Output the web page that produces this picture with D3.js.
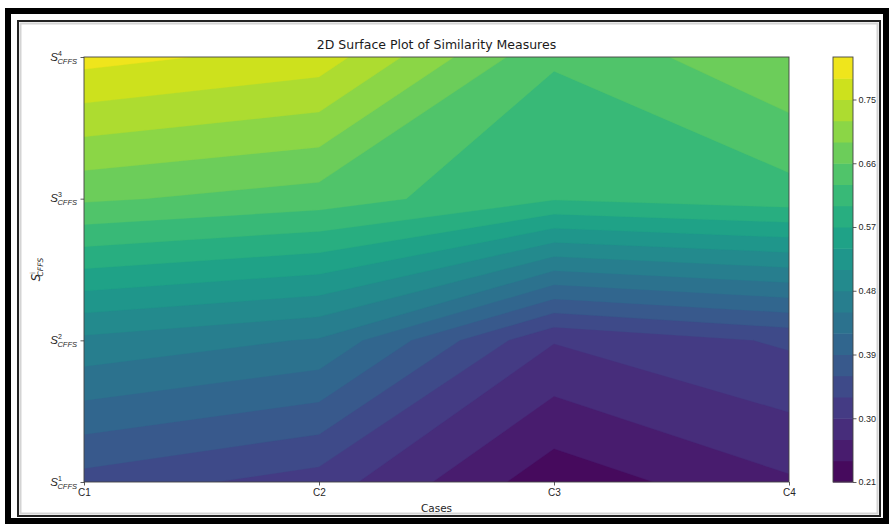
<!DOCTYPE html>
<html lang="en">
<head>
<meta charset="UTF-8">
<title>2D Surface Plot of Similarity Measures</title>
<style>
  body { margin: 0; padding: 0; background: #fff; }
  svg { display: block; font-family: "DejaVu Sans", sans-serif; }
  .tick text { font-size: 10px; fill: #262626; }
  .tick line { stroke: #333; stroke-width: 0.8px; }
  .domain { display: none; }
  .cbar .tick text { font-size: 9px; }
</style>
</head>
<body>
<svg id="chart" width="890" height="525"></svg>
<script src="https://d3js.org/d3.v7.min.js"></script>
<script>
// x categories and y rows (S^k_CFFS, bottom to top)
const cases = ["C1", "C2", "C3", "C4"];
const rowKeys = ["1", "2", "3", "4"];

// similarity values, one row per S level, one value per case
const rowS1 = [0.348, 0.316, 0.221, 0.266];
const rowS2 = [0.473, 0.447, 0.302, 0.335];
const rowS3 = [0.665, 0.646, 0.603, 0.617];
const rowS4 = [0.791, 0.767, 0.633, 0.688];

// contour levels and colorbar ticks
const levels = [0.21, 0.24, 0.27, 0.30, 0.33, 0.36, 0.39, 0.42, 0.45, 0.48, 0.51,
                0.54, 0.57, 0.60, 0.63, 0.66, 0.69, 0.72, 0.75, 0.78, 0.81];
const cbTicks = [0.21, 0.30, 0.39, 0.48, 0.57, 0.66, 0.75];

const svg = d3.select("#chart");

// plot area
const pLeft = 84, pRight = 789, pTop = 57, pBottom = 482;

// frame around the whole figure
svg.append("rect").attr("x", 8).attr("y", 11).attr("width", 878).attr("height", 510)
    .attr("fill", "none").attr("stroke", "#000").attr("stroke-width", 6);
svg.append("rect").attr("x", 18).attr("y", 21).attr("width", 862).attr("height", 495)
    .attr("fill", "none").attr("stroke", "#222").attr("stroke-width", 2);
svg.append("rect").attr("x", 20.5).attr("y", 23.5).attr("width", 857).attr("height", 490)
    .attr("fill", "none").attr("stroke", "#d4d4d4").attr("stroke-width", 2);

// grid for d3.contours: row 0 is the top (S4)
const grid = [].concat(rowS4, rowS3, rowS2, rowS1);

const color = d3.scaleSequential(d3.interpolateViridis)
    .domain([levels[0], levels[levels.length - 1]]);
const step = levels[1] - levels[0];

const gx = d3.scaleLinear().domain([0.5, cases.length - 0.5]).range([pLeft, pRight]);
const gy = d3.scaleLinear().domain([0.5, rowKeys.length - 0.5]).range([pTop, pBottom]);
const path = d3.geoPath(d3.geoTransform({
    point(px, py) { this.stream.point(gx(px), gy(py)); }
}));

const contours = d3.contours()
    .size([cases.length, rowKeys.length])
    .thresholds(levels.slice(0, -1))(grid);

svg.append("clipPath").attr("id", "plot-clip")
  .append("rect").attr("x", pLeft).attr("y", pTop)
    .attr("width", pRight - pLeft).attr("height", pBottom - pTop);

svg.append("g")
    .attr("clip-path", "url(#plot-clip)")
  .selectAll("path")
  .data(contours)
  .join("path")
    .attr("d", path)
    .attr("fill", d => color(d.value + step / 2))
    .attr("stroke", d => color(d.value + step / 2))
    .attr("stroke-width", 0.3);

// spines
svg.append("rect").attr("x", pLeft).attr("y", pTop)
    .attr("width", pRight - pLeft).attr("height", pBottom - pTop)
    .attr("fill", "none").attr("stroke", "#444").attr("stroke-width", 0.9);

// x axis
const x = d3.scalePoint().domain(cases).range([pLeft, pRight]);
svg.append("g")
    .attr("transform", `translate(0,${pBottom})`)
    .call(d3.axisBottom(x).tickSize(3.5).tickPadding(3));

// y axis with S^k_CFFS labels
const y = d3.scalePoint().domain(rowKeys).range([pBottom, pTop]);
const yAxis = svg.append("g")
    .attr("transform", `translate(${pLeft},0)`)
    .call(d3.axisLeft(y).tickSize(3.5).tickFormat(""));

function sLabel(sel, k) {
    sel.append("tspan").attr("font-style", "italic").attr("font-size", 11.5).text("S");
    sel.append("tspan").attr("font-size", 7).attr("dy", -5).text(k);
    sel.append("tspan").attr("font-style", "italic").attr("font-size", 7.5)
        .attr("dx", -4.4).attr("dy", 8).text("CFFS");
}

yAxis.selectAll(".tick").each(function(k) {
    const t = d3.select(this).append("text")
        .attr("x", -7).attr("y", 3)
        .attr("text-anchor", "end")
        .attr("fill", "#262626");
    sLabel(t, k);
});

// y label
const yl = svg.append("text")
    .attr("transform", `translate(40,${(pTop + pBottom) / 2}) rotate(-90)`)
    .attr("text-anchor", "middle")
    .attr("fill", "#262626");
sLabel(yl, "i");

// x label and title
svg.append("text")
    .attr("x", (pLeft + pRight) / 2).attr("y", 512)
    .attr("text-anchor", "middle").attr("font-size", 10.5).attr("fill", "#262626")
    .text("Cases");

svg.append("text")
    .attr("x", (pLeft + pRight) / 2).attr("y", 49)
    .attr("text-anchor", "middle").attr("font-size", 12.5).attr("fill", "#1a1a1a")
    .text("2D Surface Plot of Similarity Measures");

// colorbar
const cbX = 833, cbW = 20;
const cb = d3.scaleLinear().domain([levels[0], levels[levels.length - 1]]).range([pBottom, pTop]);
const bands = d3.pairs(levels);

svg.append("g")
  .selectAll("rect")
  .data(bands)
  .join("rect")
    .attr("x", cbX)
    .attr("y", d => cb(d[1]))
    .attr("width", cbW)
    .attr("height", d => cb(d[0]) - cb(d[1]) + 0.5)
    .attr("fill", d => color((d[0] + d[1]) / 2));

svg.append("rect").attr("x", cbX).attr("y", pTop).attr("width", cbW).attr("height", pBottom - pTop)
    .attr("fill", "none").attr("stroke", "#444").attr("stroke-width", 0.9);

svg.append("g")
    .attr("class", "cbar")
    .attr("transform", `translate(${cbX + cbW},0)`)
    .call(d3.axisRight(cb).tickValues(cbTicks).tickFormat(d3.format(".2f")).tickSize(3.5).tickPadding(2));
</script>
</body>
</html>
